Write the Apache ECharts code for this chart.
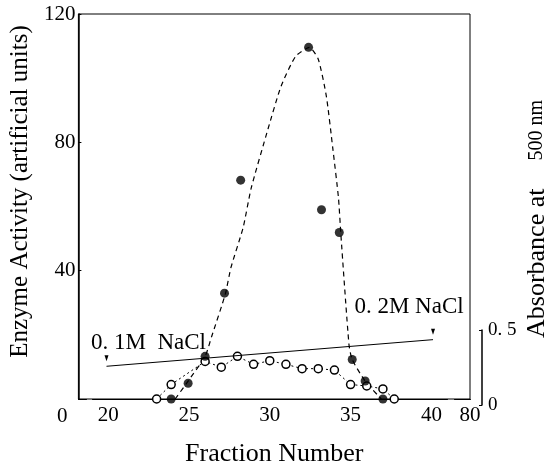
<!DOCTYPE html>
<html>
<head>
<meta charset="utf-8">
<script src="https://cdn.jsdelivr.net/npm/echarts@6/dist/echarts.min.js"></script>
<style>
    html, body { margin: 0; padding: 0; background: #fff; }
    #chart { width: 558px; height: 472px; }
</style>
</head>
<body>
<div id="chart"></div>
<script>
// enzyme activity (filled circles)
const activityX = [23.9, 24.95, 26.0, 27.2, 28.2, 32.4, 33.2, 34.3, 35.1, 35.9, 37.0]
const activityY = [0, 4.9, 13.3, 33.0, 68.2, 109.6, 59.0, 51.9, 12.3, 5.6, 0]

// dashed curve drawn through the activity peak
const curveX = [24.15, 24.95, 26.0, 26.4, 27.25, 27.6, 28.35, 28.85, 29.9, 30.7, 31.6, 32.45, 33.0, 33.5, 33.9, 34.25, 34.4, 34.9, 35.1, 35.9, 36.9]
const curveY = [0, 5.6, 13.3, 19.4, 32.7, 41.0, 53.4, 65.7, 84.3, 97.5, 106.8, 109.6, 105.9, 94.4, 78.1, 62.7, 51.2, 17.0, 12.3, 5.6, 0]

// absorbance at 500 nm (open circles)
const absX = [23, 23.9, 26, 27, 28, 29, 30, 31, 32, 33, 34, 35, 36, 37, 37.7]
const absY = [0, 0.10, 0.26, 0.22, 0.295, 0.24, 0.265, 0.24, 0.21, 0.21, 0.20, 0.10, 0.09, 0.07, 0]

// NaCl gradient line
const naclX = [19.9, 40.1]
const naclY = [10.2, 18.5]
const naclLabels = ['0. 1M  NaCl', '0. 2M NaCl']

const xTicks = [20, 25, 30, 35, 40, 80]
const absTicks = [0, 0.5]
const absTickLabels = ['0', '0. 5']

const FONT = 'Liberation Serif'
const zip = (xs, ys) => xs.map((x, i) => [x, ys[i]])

const chart = echarts.init(document.getElementById('chart'))

const naclOffsets = [[42, -15], [-24, -25]]

chart.setOption({
    animation: false,
    backgroundColor: '#fff',
    textStyle: { fontFamily: FONT, color: '#000' },
    grid: [
        { left: 78, right: 88, top: 14, bottom: 69, show: true, borderColor: '#000', borderWidth: 1 },
        { left: 482, width: 1, top: 330, bottom: 67 }
    ],
    xAxis: [
        {
            type: 'value',
            gridIndex: 0,
            min: 0,
            max: 80,
            breaks: [
                { start: 0.5, end: 19, gap: '1.4%' },
                { start: 41, end: 79, gap: '1.6%' }
            ],
            breakArea: { show: false },
            splitLine: { show: false },
            axisLine: { lineStyle: { color: '#000', width: 1 } },
            axisTick: { show: false },
            axisLabel: {
                customValues: xTicks,
                fontFamily: FONT, fontSize: 21, color: '#000', margin: 6
            },
            name: 'Fraction Number',
            nameLocation: 'middle',
            nameGap: 42,
            nameTextStyle: { fontFamily: FONT, fontSize: 26, color: '#000' }
        },
        { type: 'value', gridIndex: 1, show: false }
    ],
    yAxis: [
        {
            type: 'value',
            gridIndex: 0,
            min: 0,
            max: 120,
            interval: 40,
            splitLine: { show: false },
            axisLine: { show: true, lineStyle: { color: '#000', width: 1.5 } },
            axisTick: { show: true, inside: true, length: 3, lineStyle: { color: '#000' } },
            axisLabel: {
                fontFamily: FONT, fontSize: 21, color: '#000', margin: 3,
                formatter: v => v === 0 ? '{o|0}' : String(v),
                rich: { o: { fontFamily: FONT, fontSize: 21, color: '#000', padding: [34, 8, 0, 0] } }
            },
            name: 'Enzyme Activity (artificial units)',
            nameLocation: 'middle',
            nameGap: 44,
            nameTextStyle: { fontFamily: FONT, fontSize: 25, color: '#000', padding: [0, 0, 0, 30] }
        },
        {
            type: 'value',
            gridIndex: 0,
            position: 'right',
            min: 0,
            max: 2.664,
            axisLine: { show: false },
            axisTick: { show: false },
            axisLabel: { show: false },
            splitLine: { show: false },
            name: '{a|Absorbance at}{g|}{b|500 nm}',
            nameLocation: 'middle',
            nameGap: 54,
            nameTextStyle: {
                padding: [0, 25, 0, 0],
                rich: {
                    a: { fontFamily: FONT, fontSize: 26, color: '#000' },
                    g: { width: 28 },
                    b: { fontFamily: FONT, fontSize: 20, color: '#000' }
                }
            }
        },
        {
            type: 'value',
            gridIndex: 1,
            position: 'right',
            min: 0,
            max: 0.5,
            interval: 0.5,
            splitLine: { show: false },
            axisLine: { show: true, lineStyle: { color: '#000', width: 1.5 } },
            axisTick: { show: true, inside: true, length: 3, lineStyle: { color: '#000' } },
            axisLabel: {
                fontFamily: FONT, fontSize: 19, color: '#000', margin: 5,
                formatter: v => absTickLabels[absTicks.indexOf(v)]
            }
        }
    ],
    series: [
        {
            name: 'activity curve',
            type: 'line',
            data: zip(curveX, curveY),
            smooth: 0.2,
            showSymbol: false,
            lineStyle: { color: '#000', width: 1.2, type: [5, 4] },
            z: 2
        },
        {
            name: 'absorbance',
            type: 'line',
            yAxisIndex: 1,
            data: zip(absX, absY),
            symbol: 'circle',
            symbolSize: 8,
            itemStyle: { color: '#fff', borderColor: '#000', borderWidth: 1.5 },
            lineStyle: { color: '#000', width: 1, type: [2, 3] },
            z: 3
        },
        {
            name: 'activity',
            type: 'scatter',
            data: zip(activityX, activityY),
            symbolSize: 9,
            itemStyle: { color: '#000' },
            z: 5
        },
        {
            name: 'NaCl',
            type: 'line',
            data: naclX.map((x, i) => ({
                value: [x, naclY[i]],
                label: {
                    show: true,
                    position: 'inside',
                    offset: naclOffsets[i],
                    formatter: naclLabels[i],
                    fontFamily: FONT,
                    fontSize: 23,
                    color: '#000'
                }
            })),
            symbol: 'triangle',
            symbolRotate: 180,
            symbolSize: [4, 6],
            symbolOffset: [0, -8],
            itemStyle: { color: '#000' },
            lineStyle: { color: '#000', width: 1 },
            z: 4
        }
    ]
})
</script>
</body>
</html>
